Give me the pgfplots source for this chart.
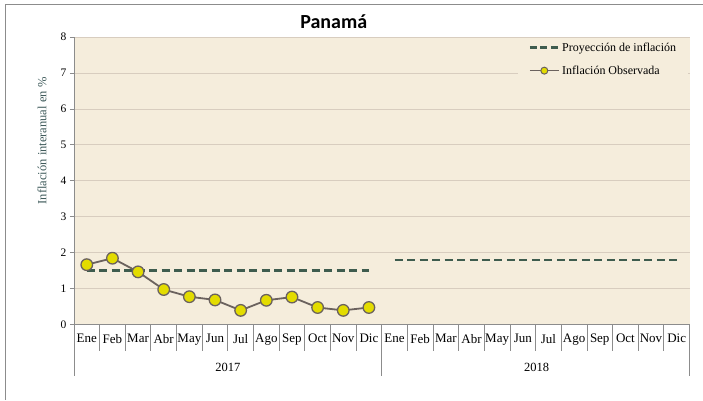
\documentclass[border=0pt]{standalone}
\usepackage{fontspec}
\setmainfont{Liberation Serif}
\newfontfamily\titlefont{Carlito}
\usepackage{pgfplots}
\pgfplotsset{compat=1.18}
\definecolor{bgc}{HTML}{F5EDDC}
\definecolor{gridc}{HTML}{D8CDBF}
\definecolor{projc}{HTML}{3E5C4E}
\definecolor{linec}{HTML}{6B625E}
\definecolor{markc}{HTML}{E3DC00}
\definecolor{labc}{HTML}{3F5B5B}
\definecolor{axc}{HTML}{8C8C8C}
\begin{document}
\begin{tikzpicture}[x=1pt,y=1pt]
\path[fill=white] (0,0) rectangle (703,400);
\draw[axc, line width=1pt] (6,0) -- (6,395) -- (703,395);
\node[font=\titlefont\bfseries\fontsize{20}{24}\selectfont, anchor=base] at (334,371) {Panamá};
\node[rotate=90, font=\fontsize{12.5}{14}\selectfont, text=labc] at (42,259) {Inflación interanual en \%};
\begin{axis}[at={(74pt,75pt)}, anchor=south west, scale only axis,
  width=616pt, height=288pt,
  xmin=0.5, xmax=24.5, ymin=0, ymax=8, ytick={0,...,8},
  axis background/.style={fill=bgc},
  ymajorgrids, grid style={gridc, line width=0.8pt},
  axis x line*=bottom, axis y line*=left,
  axis line style={axc, line width=0.8pt},
  xtick={1,...,24},
  xticklabels={Ene,Feb,Mar,Abr,May,Jun,Jul,Ago,Sep,Oct,Nov,Dic,Ene,Feb,Mar,Abr,May,Jun,Jul,Ago,Sep,Oct,Nov,Dic},
  x tick style={draw=none},
  y tick style={axc, line width=0.8pt},
  tick align=outside, major tick length=4pt,
  x tick label style={font=\fontsize{13}{15}\selectfont, anchor=north, yshift=-2pt},
  y tick label style={font=\fontsize{11.5}{13}\selectfont},
  /pgf/number format/assume math mode=true,
  clip=false,
  legend style={at={(rel axis cs:0.998,0.998)}, anchor=north east, fill=bgc, draw=none,
    font=\fontsize{12}{14}\selectfont, row sep=9pt, inner xsep=10pt, inner ysep=3pt},
  legend cell align=left,
]
\addplot[projc, line width=2.8pt, dash pattern=on 8pt off 4.5pt, forget plot] coordinates {
(1,1.5) (2,1.5) (3,1.5) (4,1.5) (5,1.5) (6,1.5) (7,1.5) (8,1.5) (9,1.5) (10,1.5) (11,1.5) (12,1.5)};
\addplot[projc, line width=2.8pt, dash pattern=on 8pt off 4.5pt,
  legend image code/.code={\draw[projc, line width=2.8pt, dash pattern=on 7pt off 3.5pt] (0pt,0pt) -- (29pt,0pt);}] coordinates {
(13,1.8) (14,1.8) (15,1.8) (16,1.8) (17,1.8) (18,1.8) (19,1.8) (20,1.8) (21,1.8) (22,1.8) (23,1.8) (24,1.8)};
\addlegendentry{Proyección de inflación}
\addplot[linec, line width=1.8pt, mark=*, mark size=5.8pt, mark options={fill=markc, draw=linec, line width=1.3pt},
  legend image code/.code={\draw[linec, line width=1.5pt] (0pt,0pt) -- (29pt,0pt); \draw[fill=markc, draw=linec, line width=1pt] (14.5pt,0pt) circle (3.5pt);}] coordinates {
(1,1.67) (2,1.85) (3,1.47) (4,0.98) (5,0.78) (6,0.69) (7,0.40) (8,0.68) (9,0.77) (10,0.48) (11,0.40) (12,0.48)};
\addlegendentry{Inflación Observada}
\end{axis}
\foreach \k in {1,...,11,13,14,...,23} \draw[axc, line width=0.8pt] (74+25.6667*\k,75) -- ++(0,-26);
\foreach \k in {0,12,24} \draw[axc, line width=0.8pt] (74+25.6667*\k,75) -- ++(0,-51);
\node[font=\fontsize{12.5}{14}\selectfont] at (228,32) {2017};
\node[font=\fontsize{12.5}{14}\selectfont] at (537,32) {2018};
\end{tikzpicture}
\end{document}
